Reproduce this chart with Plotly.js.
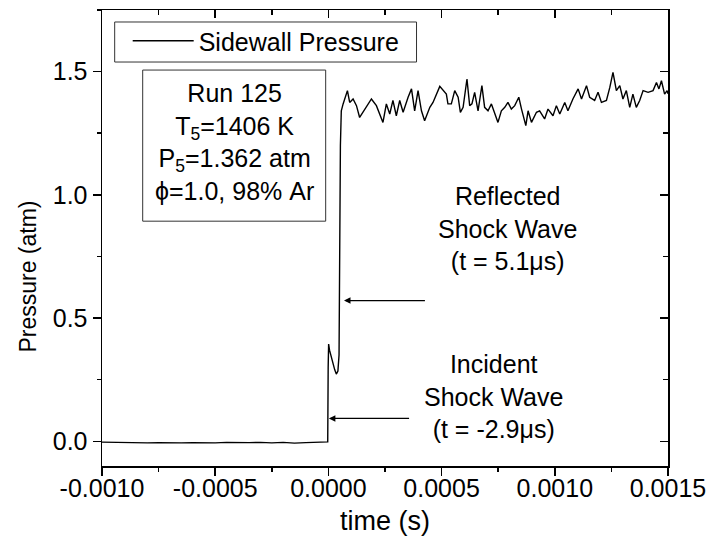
<!DOCTYPE html>
<html>
<head>
<meta charset="utf-8">
<script src="https://cdn.plot.ly/plotly-3.0.1.min.js"></script>
<style>html,body{margin:0;padding:0;background:#fff;}#chart{width:710px;height:552px;}</style>
</head>
<body>
<div id="chart"></div>
<script>
// ---- data (time in seconds, pressure in atm) ----
var baseTime = [-1000e-6,-950e-6,-900e-6,-850e-6,-800e-6,-750e-6,-700e-6,-650e-6,-600e-6,-550e-6,-500e-6,-450e-6,-400e-6,-350e-6,-300e-6,-250e-6,-200e-6,-150e-6,-100e-6,-50e-6,-3e-6];
var basePress = [-0.003,-0.004,-0.005,-0.004,-0.006,-0.005,-0.007,-0.006,-0.005,-0.007,-0.006,-0.004,-0.006,-0.005,-0.004,-0.006,-0.004,-0.007,-0.005,-0.003,-0.002];

var shockTime = [-1e-6,1e-6,5e-6,10e-6,16e-6,22e-6,28e-6,35e-6,42e-6,47e-6,50e-6,53e-6];
var shockPress = [0.30,0.395,0.37,0.35,0.33,0.31,0.29,0.273,0.285,0.35,0.80,1.20];

var plateauTime = [57e-6,65e-6,84e-6,94e-6,109e-6,124e-6,138e-6,153e-6,168e-6,190e-6,212e-6,227e-6,241e-6,256e-6,271e-6,285e-6,300e-6,315e-6,330e-6,352e-6,367e-6,381e-6,396e-6,411e-6,425e-6,448e-6,462e-6,492e-6,506e-6,521e-6,528e-6,543e-6,558e-6,573e-6,583e-6,595e-6,612e-6,624e-6,634e-6,646e-6,661e-6,678e-6,690e-6,705e-6,720e-6,735e-6,749e-6,764e-6,779e-6,793e-6,808e-6,823e-6,841e-6,853e-6,872e-6,882e-6,897e-6,919e-6,933e-6,955e-6,970e-6,992e-6,1007e-6,1022e-6,1044e-6,1058e-6,1080e-6,1103e-6,1118e-6,1140e-6,1154e-6,1176e-6,1191e-6,1206e-6,1228e-6,1243e-6,1257e-6,1272e-6,1287e-6,1301e-6,1316e-6,1331e-6,1345e-6,1360e-6,1375e-6,1390e-6,1412e-6,1434e-6,1449e-6,1460e-6,1471e-6,1485e-6,1496e-6,1500e-6];
var plateauPress = [1.341,1.369,1.423,1.375,1.389,1.362,1.314,1.335,1.355,1.389,1.362,1.328,1.294,1.369,1.328,1.383,1.321,1.383,1.335,1.396,1.430,1.341,1.423,1.341,1.301,1.355,1.375,1.440,1.423,1.409,1.369,1.369,1.423,1.396,1.335,1.355,1.470,1.362,1.369,1.416,1.341,1.443,1.355,1.341,1.369,1.328,1.294,1.341,1.355,1.375,1.348,1.362,1.396,1.348,1.281,1.341,1.294,1.335,1.341,1.308,1.348,1.321,1.362,1.328,1.375,1.341,1.389,1.430,1.389,1.443,1.396,1.383,1.416,1.375,1.383,1.436,1.497,1.423,1.443,1.389,1.423,1.355,1.409,1.355,1.383,1.423,1.416,1.423,1.456,1.430,1.463,1.409,1.423,1.410];

var xTickVals = [-0.0010,-0.0005,0.0000,0.0005,0.0010,0.0015];
var xTickText = ['-0.0010','-0.0005','0.0000','0.0005','0.0010','0.0015'];
var yTickVals = [0.0,0.5,1.0,1.5];
var yTickText = ['0.0','0.5','1.0','1.5'];

var seriesName = 'Sidewall Pressure';
var infoLines = ['Run 125','T<sub>5</sub>=1406 K','P<sub>5</sub>=1.362 atm','\u03d5=1.0, 98% Ar'];
var reflectedLines = ['Reflected','Shock Wave','(t = 5.1\u03bcs)'];
var incidentLines = ['Incident','Shock Wave','(t = -2.9\u03bcs)'];
// arrow head / tail positions (time s, pressure atm)
var reflArrow = {head:[69e-6,0.571], tail:[433e-6,0.571]};
var incArrow = {head:[2e-6,0.093], tail:[363e-6,0.093]};

// ---- build ----
var t = baseTime.concat(shockTime, plateauTime);
var p = basePress.concat(shockPress, plateauPress);

var FONT = '"Liberation Sans", Arial, sans-serif';
var FS = 25;

var traces = [
  {x: t, y: p, type: 'scatter', mode: 'lines', name: seriesName,
   line: {color: '#000', width: 1.4}, hoverinfo: 'skip'},
  {x: [], y: [], type: 'scatter', mode: 'lines', xaxis: 'x2', yaxis: 'y2',
   showlegend: false, hoverinfo: 'skip'}
];

var xr = [-0.0010, 0.0015];
var yr = [-0.1, 1.75];

var axCommon = {showgrid: false, zeroline: false, showline: true, linecolor: '#000', linewidth: 1.5,
  tickcolor: '#000', tickwidth: 1.5, ticklen: 8, tickfont: {family: FONT, size: FS, color: '#000'}};

var layout = {
  width: 710, height: 552,
  margin: {l: 102, r: 42, t: 10, b: 86},
  paper_bgcolor: '#fff', plot_bgcolor: '#fff',
  font: {family: FONT, size: FS, color: '#000'},
  showlegend: true,
  legend: {x: 0.0454, y: 0.9824, xanchor: 'left', yanchor: 'top',
    borderwidth: 0, bgcolor: 'rgba(0,0,0,0)',
    font: {family: FONT, size: FS, color: '#000'}, itemwidth: 61},
  xaxis: Object.assign({}, axCommon, {range: xr, ticks: 'outside', ticklabelstandoff: -9,
    tickvals: xTickVals, ticktext: xTickText,
    minor: {dtick: 0.00025, ticks: 'outside', ticklen: 4, tickwidth: 1.5, tickcolor: '#000', showgrid: false},
    title: {text: 'time (s)', font: {family: FONT, size: 27}, standoff: 10}}),
  yaxis: Object.assign({}, axCommon, {range: yr, ticks: 'outside',
    tickvals: yTickVals, ticktext: yTickText,
    minor: {dtick: 0.25, ticks: 'outside', ticklen: 4, tickwidth: 1.5, tickcolor: '#000', showgrid: false},
    title: {text: ''}}),
  xaxis2: Object.assign({}, axCommon, {range: xr, overlaying: 'x', side: 'top', anchor: 'y2', ticks: 'inside',
    tickvals: xTickVals, showticklabels: false,
    minor: {dtick: 0.00025, ticks: 'inside', ticklen: 5, tickwidth: 1.5, tickcolor: '#000', showgrid: false}}),
  yaxis2: Object.assign({}, axCommon, {range: yr, overlaying: 'y', side: 'right', anchor: 'x2', ticks: 'inside',
    tickvals: yTickVals, showticklabels: false,
    minor: {dtick: 0.25, ticks: 'inside', ticklen: 5, tickwidth: 1.5, tickcolor: '#000', showgrid: false}}),
  shapes: [
    // legend frame
    {type: 'rect', xref: 'paper', yref: 'paper', x0: 0.0224, x1: 0.5557, y0: 0.8859, y1: 0.9737,
     line: {color: '#333', width: 1}, fillcolor: 'rgba(0,0,0,0)', layer: 'below'},
    // info box frame
    {type: 'rect', xref: 'paper', yref: 'paper', x0: 0.0719, x1: 0.3952, y0: 0.5369, y1: 0.8683,
     line: {color: '#333', width: 1}, fillcolor: 'rgba(0,0,0,0)', layer: 'below'}
  ],
  annotations: [
    {xref: 'paper', yref: 'paper', x: -0.131, y: 0.415, xanchor: 'center', yanchor: 'middle',
     text: 'Pressure (atm)', textangle: -90, showarrow: false, font: {family: FONT, size: 23}},
    {xref: 'paper', yref: 'paper', x: 0.2336, y: 0.7103, xanchor: 'center', yanchor: 'middle',
     text: infoLines.join('<br>'), showarrow: false, align: 'center',
     font: {family: FONT, size: FS}},
    {xref: 'x', yref: 'y', x: 0.00079, y: 0.863, xanchor: 'center', yanchor: 'middle',
     text: reflectedLines.join('<br>'), showarrow: false, align: 'center', font: {family: FONT, size: FS}},
    {xref: 'x', yref: 'y', x: 0.00073, y: 0.181, xanchor: 'center', yanchor: 'middle',
     text: incidentLines.join('<br>'), showarrow: false, align: 'center', font: {family: FONT, size: FS}},
    {xref: 'x', yref: 'y', axref: 'x', ayref: 'y', x: reflArrow.head[0], y: reflArrow.head[1],
     ax: reflArrow.tail[0], ay: reflArrow.tail[1], text: '', showarrow: true,
     arrowhead: 2, arrowsize: 1, arrowwidth: 1.3, arrowcolor: '#000', standoff: 0},
    {xref: 'x', yref: 'y', axref: 'x', ayref: 'y', x: incArrow.head[0], y: incArrow.head[1],
     ax: incArrow.tail[0], ay: incArrow.tail[1], text: '', showarrow: true,
     arrowhead: 2, arrowsize: 1, arrowwidth: 1.3, arrowcolor: '#000', standoff: 0}
  ]
};

Plotly.newPlot('chart', traces, layout, {staticPlot: true, displayModeBar: false});
</script>
</body>
</html>
